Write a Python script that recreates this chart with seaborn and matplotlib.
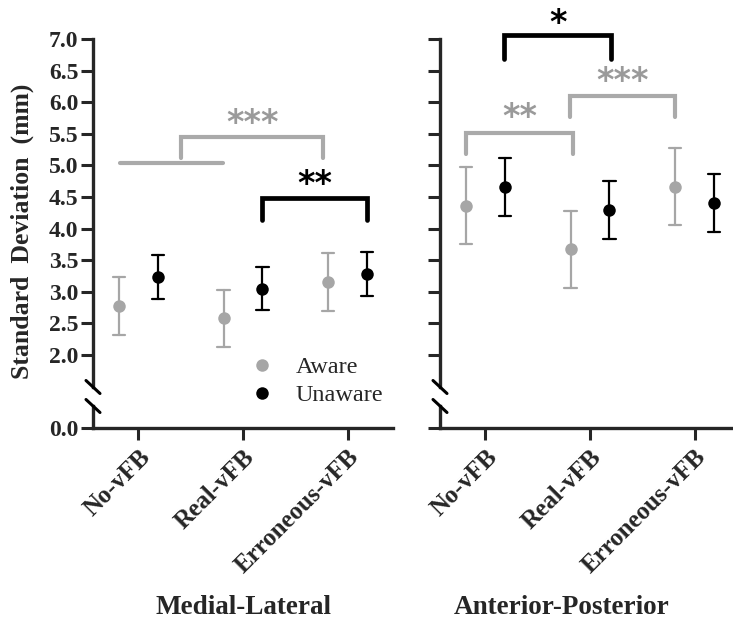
import numpy as np
import pandas as pd
import matplotlib
matplotlib.use("Agg")
import matplotlib.pyplot as plt
from matplotlib.lines import Line2D
import seaborn as sns

conditions = ["No-vFB", "Real-vFB", "Erroneous-vFB"]
groups = ["Aware", "Unaware"]
panels = ["Medial-Lateral", "Anterior-Posterior"]

# mean +/- error
ml_aware_mean = [2.77, 2.58, 3.16]
ml_aware_err = [0.46, 0.45, 0.46]
ml_unaware_mean = [3.23, 3.05, 3.28]
ml_unaware_err = [0.35, 0.34, 0.35]
ap_aware_mean = [4.36, 3.67, 4.66]
ap_aware_err = [0.61, 0.61, 0.61]
ap_unaware_mean = [4.66, 4.30, 4.40]
ap_unaware_err = [0.46, 0.46, 0.46]

yticks = [2.0, 2.5, 3.0, 3.5, 4.0, 4.5, 5.0, 5.5, 6.0, 6.5, 7.0]

# significance brackets: (panel, x_left, x_right, y_top, y_leg, color, stars, y_stars)
brackets = [
    (0, 0.405, 1.77, 5.455, 5.11, "gray", "***", 5.80),
    (0, 1.18, 2.19, 4.48, 4.14, "black", "**", 4.82),
    (1, 0.18, 1.20, 7.06, 6.69, "black", "*", 7.38),
    (1, -0.19, 0.84, 5.52, 5.18, "gray", "**", 5.88),
    (1, 0.81, 1.81, 6.10, 5.76, "gray", "***", 6.45),
]
GRAY = "#a6a6a6"
palette = {"Aware": GRAY, "Unaware": "black"}

rows = []
for panel, means, errs in [
    (panels[0], [ml_aware_mean, ml_unaware_mean], [ml_aware_err, ml_unaware_err]),
    (panels[1], [ap_aware_mean, ap_unaware_mean], [ap_aware_err, ap_unaware_err]),
]:
    for g, m_list, e_list in zip(groups, means, errs):
        for c, m, e in zip(conditions, m_list, e_list):
            rows.append([panel, c, g, m - e])
            rows.append([panel, c, g, m + e])
df = pd.DataFrame(rows, columns=["panel", "condition", "group", "value"])

sns.set_theme(style="ticks")
plt.rcParams["font.family"] = ["Liberation Serif", "DejaVu Serif"]
plt.rcParams["axes.linewidth"] = 2.4
plt.rcParams["xtick.major.width"] = 2.2
plt.rcParams["ytick.major.width"] = 2.2
plt.rcParams["xtick.major.size"] = 8.5
plt.rcParams["ytick.major.size"] = 8.5

W, H = 733, 620
fig = plt.figure(figsize=(W / 100, H / 100), dpi=100)


def fbox(x0, y_top, x1, y_bot):
    return [x0 / W, 1 - y_bot / H, (x1 - x0) / W, (y_bot - y_top) / H]


XLIM = (-0.435, 2.435)
lefts = [93, 440]
for i, panel in enumerate(panels):
    x0 = lefts[i]
    ax = fig.add_axes(fbox(x0, 39, x0 + 300, 386.6))
    axb = fig.add_axes(fbox(x0, 406, x0 + 300, 428))

    sns.pointplot(data=df[df.panel == panel], x="condition", y="value", hue="group",
                  order=conditions, hue_order=groups, palette=palette,
                  estimator="mean", errorbar=lambda v: (v.min(), v.max()),
                  dodge=0.37, markers="o", linestyle="none", markersize=9,
                  markeredgewidth=0, capsize=0.12,
                  err_kws={"linestyle": "-", "linewidth": 1.6}, legend=False, ax=ax)

    ax.set_xlim(XLIM)
    ax.set_ylim(1.5, 7.0)
    ax.set_yticks(yticks)
    ax.set_xticks([])
    ax.set_xlabel("")
    ax.set_ylabel("")
    for s in ["top", "right", "bottom"]:
        ax.spines[s].set_visible(False)
    if i == 0:
        ax.set_yticklabels([f"{t:.1f}" for t in yticks], fontsize=17, fontweight="bold")
    else:
        ax.set_yticklabels([])
    ax.tick_params(axis="y", pad=2)

    axb.set_xlim(XLIM)
    axb.set_ylim(0, 0.35)
    axb.set_yticks([0])
    axb.set_yticklabels(["0.0"] if i == 0 else [], fontsize=17, fontweight="bold")
    axb.tick_params(axis="y", pad=2)
    axb.set_xticks(range(len(conditions)))
    axb.set_xticklabels(conditions, rotation=45, ha="right", va="top",
                        rotation_mode="anchor", fontsize=18, fontweight="bold")
    axb.tick_params(axis="x", pad=4)
    for s in ["top", "right"]:
        axb.spines[s].set_visible(False)

    # axis break marks
    for yc in [387, 406]:
        fig.add_artist(Line2D([(x0 - 7) / W, (x0 + 7) / W],
                              [1 - (yc - 6.5) / H, 1 - (yc + 6.5) / H],
                              transform=fig.transFigure, color="black", lw=2.2))

    for p, xl, xr, yt, yl, col, stars, ys in brackets:
        if p != i:
            continue
        c = "#aaaaaa" if col == "gray" else "black"
        ax.plot([xl, xl, xr, xr], [yl, yt, yt, yl], color=c, lw=3.0 if col == "gray" else 3.4,
                clip_on=False, solid_joinstyle="miter")
        ax.text((xl + xr) / 2, ys - 0.13, stars, ha="center", va="center", fontsize=24,
                fontweight="bold", family="DejaVu Sans",
                color="#9a9a9a" if col == "gray" else "black", clip_on=False)

    if i == 0:
        # grouped line joining No-vFB and Real-vFB (aware)
        ax.plot([-0.172, 0.81], [5.04, 5.04], color="#aaaaaa", lw=3.0, clip_on=False)

    fig.text((x0 + 150) / W if i == 0 else 562 / W, 1 - 607 / H, panel,
             ha="center", va="center", fontsize=19.5, fontweight="bold")

fig.text(22 / W, 1 - 231 / H, "Standard  Deviation  (mm)", rotation=90,
         ha="center", va="center", fontsize=18.5, fontweight="bold")

handles = [Line2D([], [], marker="o", linestyle="none", color=palette[g],
                  markersize=9, markeredgewidth=0) for g in groups]
fig.legend(handles, groups, loc="upper left", bbox_to_anchor=(251 / W, 1 - 356 / H),
           frameon=False, borderpad=0, borderaxespad=0, handlelength=0.9,
           handletextpad=0.95, labelspacing=0.25, prop={"size": 17.5})

fig.savefig("out.png", dpi=100)
